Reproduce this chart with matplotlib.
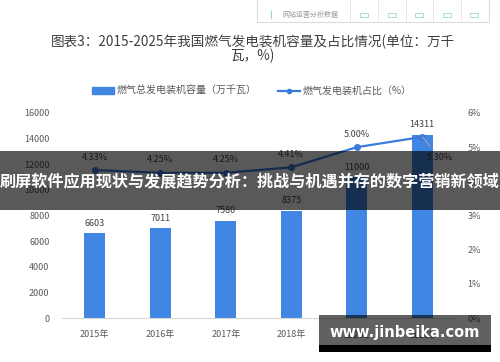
import matplotlib
matplotlib.use("Agg")
import matplotlib.pyplot as plt
from matplotlib.patches import Rectangle
from matplotlib.lines import Line2D
import numpy as np

plt.rcParams['font.family'] = ['Noto Sans CJK SC', 'DejaVu Sans']

years = ["2015年", "2016年", "2017年", "2018年", "2020E", "2025E"]
capacity = [6603, 7011, 7580, 8375, 11000, 14311]
share = [4.33, 4.25, 4.25, 4.41, 5.00, 5.30]
left_ticks = [0, 2000, 4000, 6000, 8000, 10000, 12000, 14000, 16000]
right_ticks = [0, 1, 2, 3, 4, 5, 6]

title = "图表3：2015-2025年我国燃气发电装机容量及占比情况(单位：万千\n瓦，%)"
banner = "刷屏软件应用现状与发展趋势分析：挑战与机遇并存的数字营销新领域"
site = "www.jinbeika.com"

bar_color = "#4186E2"
line_color = "#3A7CDD"
txt = "#595959"

W, H = 500, 362
fig = plt.figure(figsize=(5, 3.62), dpi=100)


def fx(px):
    return px / W


def fy(py):
    return 1 - py / H


ax = fig.add_axes([fx(62), fy(318), fx(455) - fx(62), fy(113) - fy(318)])
x = np.arange(len(years))
ax.bar(x, capacity, width=0.32, color=bar_color, zorder=2)
ax.set_xlim(-0.5, len(years) - 0.5)
ax.set_ylim(0, 16000)
ax.set_yticks(left_ticks)
ax.set_xticks(x)
ax.set_xticklabels(years)
for s in ["top", "left", "right"]:
    ax.spines[s].set_visible(False)
ax.spines["bottom"].set_color("#d9d9d9")
ax.tick_params(axis="both", length=0, labelsize=6.5, colors=txt)
ax.tick_params(axis="x", pad=9)
ax.tick_params(axis="y", pad=9)
for xi, v in zip(x, capacity):
    ax.annotate(str(v), (xi, v), xytext=(0, 4), textcoords="offset points",
                ha="center", va="bottom", fontsize=6.5, color="#404040")

ax2 = ax.twinx()
ax2.set_ylim(0, 6)
ax2.set_yticks(right_ticks)
ax2.set_yticklabels([f"{t}%" for t in right_ticks])
for s in ["top", "left", "right", "bottom"]:
    ax2.spines[s].set_visible(False)
ax2.tick_params(axis="y", length=0, labelsize=6.5, colors=txt, pad=9)
ax2.plot(x, share, color=line_color, lw=1.6, marker="o", ms=4, zorder=3)
for xi, v in zip(x[:-1], share[:-1]):
    ax2.annotate(f"{v:.2f}%", (xi, v), xytext=(0, 6), textcoords="offset points",
                 ha="center", va="bottom", fontsize=6.5, color="#404040")
ax2.annotate(f"{share[-1]:.2f}%", (x[-1], share[-1]), xytext=(13, -15),
             textcoords="offset points", ha="center", va="center",
             fontsize=6.5, color="#404040",
             arrowprops=dict(arrowstyle="-", color="#a6a6a6", lw=0.8,
                             shrinkA=4, shrinkB=0))

fig.text(0.505, fy(49), title, ha="center", va="center", fontsize=9.8,
         color="#404040", linespacing=0.95)

handles = [Rectangle((0, 0), 1, 1, color=bar_color),
           Line2D([], [], color=line_color, marker="o", ms=3, lw=1.6)]
fig.legend(handles, ["燃气总发电装机容量（万千瓦）", "燃气发电装机占比（%）"],
           loc="center", bbox_to_anchor=(fx(252), fy(91)), ncol=2, frameon=False,
           fontsize=7.2, labelcolor=txt, handlelength=2.2, handleheight=0.6,
           columnspacing=2.2, handletextpad=0.2)

# top toolbar
fig.patches.append(Rectangle((fx(257), fy(22)), fx(489) - fx(257), fy(0) - fy(22) + 0.01,
                             transform=fig.transFigure, facecolor="white",
                             edgecolor="#dcdcdc", lw=0.8))
for sx in [350, 378, 406, 433, 461]:
    fig.add_artist(Line2D([fx(sx), fx(sx)], [fy(22), 1], color="#e5e5e5", lw=0.6))
for ix in [364, 392, 419, 447, 474]:
    fig.patches.append(Rectangle((fx(ix - 4), fy(17)), fx(8), 4 / H,
                                 transform=fig.transFigure, facecolor="none",
                                 edgecolor="#9bdcb8", lw=0.6))
fig.add_artist(Line2D([fx(271), fx(271)], [fy(18), fy(11)], color="#9bdcb8", lw=0.8))
fig.text(fx(282), fy(14.5), "网站运营分析数据", fontsize=5, color="#9a9a9a", va="center")

# banner
fig.patches.append(Rectangle((0, fy(210)), 1, fy(151) - fy(210),
                             transform=fig.transFigure, facecolor="black",
                             alpha=0.65, zorder=10))
fig.text(0.5, fy(181), banner, ha="center", va="center", fontsize=11.6,
         color="white", fontweight="bold", zorder=11)

# site stamp
fig.patches.append(Rectangle((fx(319), fy(345)), fx(491) - fx(319), fy(315) - fy(345),
                             transform=fig.transFigure, facecolor="black",
                             alpha=0.62, zorder=10))
fig.patches.append(Rectangle((fx(319), fy(352)), fx(491) - fx(319), fy(345) - fy(352),
                             transform=fig.transFigure, facecolor="black", zorder=10))
fig.text(fx(405), fy(333), site, ha="center", va="center", fontsize=10.5,
         color="white", fontweight="bold", family="DejaVu Sans", zorder=11)

fig.savefig("out.png", dpi=100)
